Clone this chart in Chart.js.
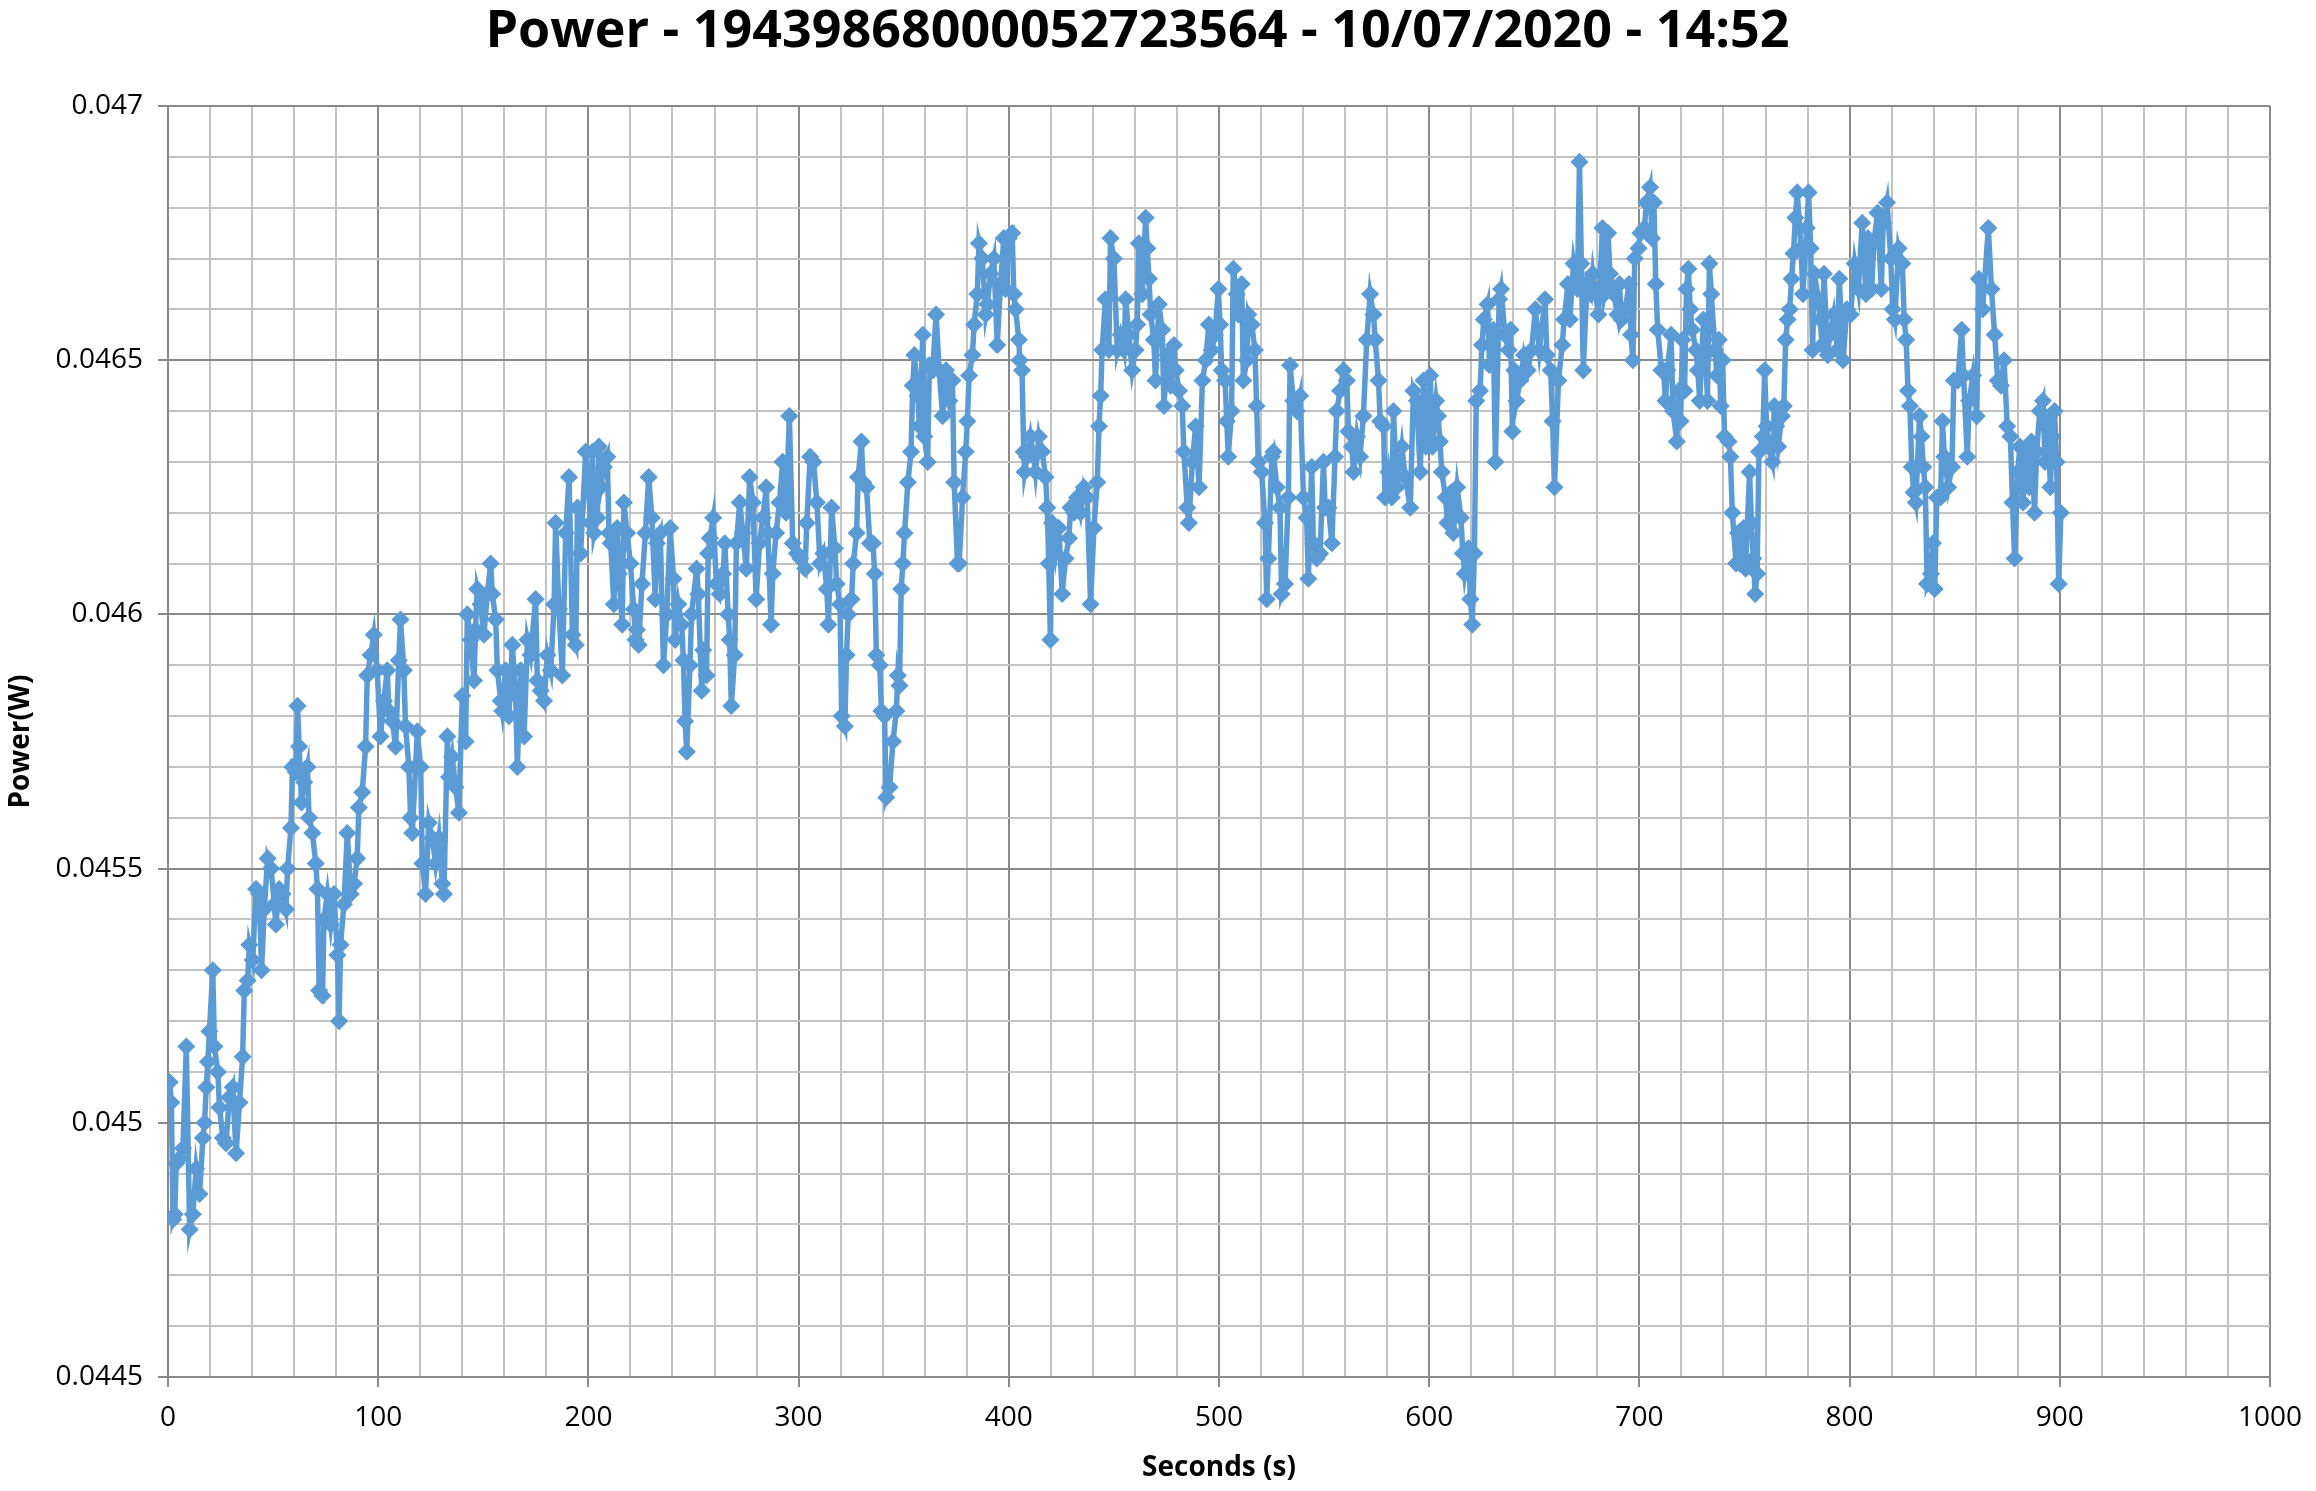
<!DOCTYPE html>
<html>
<head>
<meta charset="utf-8">
<title>Power</title>
<script src="https://cdn.jsdelivr.net/npm/chart.js@4.4.1/dist/chart.umd.min.js"></script>
<style>
  html, body { margin: 0; padding: 0; background: #fff; }
  #wrap { width: 2316px; height: 1491px; }
</style>
</head>
<body>
<div id="wrap"><canvas id="chart" width="2316" height="1491"></canvas></div>
<script>
const chartTitle = "Power - 19439868000052723564 - 10/07/2020 - 14:52";
const xTitle = "Seconds (s)";
const yTitle = "Power(W)";
const xTickLabels = ["0", "100", "200", "300", "400", "500", "600", "700", "800", "900", "1000"];
const yTickLabels = ["0.0445", "0.045", "0.0455", "0.046", "0.0465", "0.047"];

// sample times (s)
const seconds = [
  0.8,1.6,2.4,3.2,3.9,5.5,7.1,8.7,10.3,11.8,
  13.4,15.0,16.6,17.4,18.2,19.0,19.7,21.3,22.1,23.7,
  24.5,26.1,27.6,29.2,30.8,32.4,34.0,35.5,36.3,37.9,
  38.7,40.3,41.9,43.4,44.5,45.8,47.4,49.0,50.6,51.3,
  52.9,54.5,56.1,56.9,58.5,59.2,60.8,61.6,62.4,63.5,
  64.8,66.3,67.1,68.7,70.3,71.1,71.9,73.5,74.2,75.8,
  77.4,79.0,80.6,81.4,82.1,83.7,85.3,86.9,88.5,90.0,
  90.8,92.4,94.0,94.8,96.4,97.9,
  99.5,101.1,102.7,104.3,105.1,106.7,108.3,109.8,110.6,112.2,
  113.0,114.6,115.4,116.2,117.8,118.6,120.2,121.0,122.5,124.1,
  125.7,127.3,128.9,130.5,131.3,132.9,133.7,135.2,136.8,138.4,
  140.0,141.6,142.4,144.0,145.6,146.3,147.1,148.7,150.3,151.9,
  153.5,154.3,155.9,156.7,158.3,159.0,160.6,162.2,163.8,165.4,
  166.2,167.8,169.4,171.0,172.5,174.9,175.7,177.3,178.9,180.5,
  182.1,183.7,184.4,186.0,187.6,189.2,190.8,192.4,194.0,194.8,
  196.3,198.7,
  201.1,201.9,202.7,204.3,205.0,205.8,207.4,209.0,209.8,210.6,
  212.1,213.7,214.5,216.1,216.9,218.4,220.0,221.6,222.4,223.1,
  223.9,225.5,227.1,228.7,230.2,231.8,232.6,234.2,235.7,237.3,
  238.9,240.5,241.3,242.8,244.4,245.2,246.0,246.8,248.3,249.1,
  251.5,252.3,253.9,254.6,256.2,257.0,257.8,259.4,260.9,262.5,
  264.1,264.9,266.5,267.2,268.0,269.6,270.4,272.0,273.5,275.1,
  276.7,278.3,279.8,281.4,283.0,284.6,285.4,286.9,287.7,289.3,
  290.9,292.4,294.0,295.6,297.2,
  299.2,300.8,303.1,303.9,305.5,307.1,308.7,310.2,311.8,313.4,
  314.2,315.7,317.3,318.1,319.7,320.5,322.0,322.8,323.6,325.2,
  326.0,327.6,328.3,329.9,330.7,332.3,333.9,335.4,336.2,337.0,
  338.6,339.4,340.9,341.7,343.3,344.9,346.5,347.2,348.0,348.8,
  349.6,350.4,352.0,353.5,354.3,355.1,356.7,357.5,359.1,359.8,
  361.4,362.2,363.8,365.4,366.9,368.5,370.1,371.7,373.2,374.0,
  375.6,376.4,378.0,379.5,380.3,381.1,382.7,383.5,385.0,385.8,
  387.4,389.0,389.8,391.3,392.9,394.5,396.1,397.6,
  398.4,400.0,401.6,402.4,403.2,404.8,405.2,406.3,407.1,407.5,
  408.7,410.3,411.9,412.7,414.3,415.9,417.5,418.3,419.0,419.8,
  420.6,422.2,423.8,425.4,427.0,428.6,429.4,431.0,432.5,434.1,
  435.7,437.3,438.9,440.5,442.1,442.9,443.7,444.4,446.0,447.6,
  448.4,450.0,451.6,453.2,454.8,455.6,457.1,458.7,460.3,461.1,
  461.9,463.5,465.1,465.9,466.7,467.5,469.0,469.8,471.4,473.0,
  473.8,475.4,477.0,478.6,479.4,481.0,482.5,483.3,484.9,485.7,
  487.3,488.9,490.5,492.1,493.7,495.2,
  496.5,498.1,499.7,500.5,501.3,502.9,503.7,504.4,506.0,506.8,
  508.4,509.2,510.8,511.6,513.2,514.0,515.6,517.1,517.9,518.7,
  520.3,521.9,522.7,523.5,525.1,525.9,527.5,529.0,529.8,531.4,
  533.0,533.8,535.4,537.0,538.6,540.2,541.7,542.5,544.1,544.9,
  546.5,548.1,549.7,550.5,552.1,553.7,555.2,556.0,557.6,559.2,
  560.8,561.6,563.2,564.0,565.6,567.1,568.7,570.3,571.9,573.5,
  574.3,575.9,576.7,578.3,579.0,580.6,582.2,583.0,584.6,587.0,
  588.6,591.0,592.5,594.1,595.7,597.3,
  598.5,600.5,601.5,603.3,604.2,605.1,606.0,607.8,608.7,610.5,
  611.5,613.3,615.1,616.0,616.9,618.7,619.6,620.5,621.5,622.4,
  624.2,625.1,626.0,627.8,628.7,630.5,631.5,633.3,634.2,636.0,
  637.8,638.7,639.6,640.5,641.5,643.3,645.1,646.9,648.7,650.5,
  652.4,655.1,656.0,657.8,658.7,659.6,661.5,663.3,664.2,666.0,
  666.9,668.7,670.5,671.5,672.4,673.3,675.1,676.9,677.8,678.7,
  680.5,682.4,683.3,684.2,685.1,686.0,687.8,689.6,690.5,691.5,
  693.3,695.1,696.0,696.9,697.8,699.6,700.5,702.4,703.3,705.1,
  706.0,706.9,707.8,708.7,710.5,711.5,712.4,713.3,715.1,716.0,
  717.8,718.7,719.6,720.5,721.5,722.4,723.3,724.2,725.1,726.9,
  727.8,728.7,730.5,731.5,732.4,733.3,734.2,736.0,736.9,737.8,
  738.7,739.6,740.5,742.4,743.3,744.2,746.0,746.9,747.8,749.6,
  750.5,752.4,753.3,754.2,755.1,756.0,756.9,758.7,759.6,760.5,
  761.5,763.3,764.2,765.1,766.0,767.8,768.7,769.6,770.5,771.5,
  772.4,773.3,774.2,775.1,776.9,777.8,779.6,780.5,781.5,782.4,
  783.3,785.1,786.0,786.9,787.8,789.6,790.5,792.4,794.2,795.1,
  796.0,796.9,798.7,800.5,802.4,804.2,806.0,807.8,808.7,810.5,
  811.5,813.3,815.1,816.0,817.8,819.6,820.5,821.5,823.3,825.1,
  826.0,826.9,827.8,828.7,829.6,830.5,831.5,833.3,834.2,835.1,
  836.0,836.9,838.7,839.6,840.5,841.5,843.3,844.2,845.1,846.9,
  848.7,849.6,851.5,853.3,854.2,856.0,856.9,858.7,860.5,861.5,
  863.3,866.0,
  867.5,869.0,870.5,872.0,873.5,875.0,876.5,877.5,878.5,880.0,
  881.0,882.5,884.0,885.5,886.5,888.0,889.0,890.5,892.0,893.0,
  894.5,895.5,896.5,897.5,898.5,899.5,900.5
];

// power (W), same order as seconds
const power = [
  0.04508,0.04504,0.04481,0.04482,0.04492,0.04493,0.04495,0.04515,0.04479,0.04482,
  0.04491,0.04486,0.04497,0.04500,0.04507,0.04512,0.04518,0.04530,0.04515,0.04510,
  0.04503,0.04497,0.04496,0.04505,0.04507,0.04494,0.04504,0.04513,0.04526,0.04528,
  0.04535,0.04532,0.04546,0.04545,0.04530,0.04542,0.04552,0.04550,0.04543,0.04539,
  0.04546,0.04545,0.04542,0.04550,0.04558,0.04570,0.04569,0.04582,0.04574,0.04563,
  0.04567,0.04570,0.04560,0.04557,0.04551,0.04546,0.04526,0.04525,0.04540,0.04545,
  0.04539,0.04545,0.04533,0.04520,0.04535,0.04543,0.04557,0.04545,0.04547,0.04552,
  0.04562,0.04565,0.04574,0.04588,0.04592,0.04596,
  0.04589,0.04576,0.04583,0.04589,0.04581,0.04579,0.04574,0.04591,0.04599,0.04589,
  0.04578,0.04570,0.04560,0.04557,0.04570,0.04577,0.04570,0.04551,0.04545,0.04559,
  0.04556,0.04551,0.04556,0.04547,0.04545,0.04576,0.04568,0.04572,0.04566,0.04561,
  0.04584,0.04575,0.04600,0.04595,0.04587,0.04597,0.04605,0.04602,0.04596,0.04604,
  0.04610,0.04604,0.04599,0.04589,0.04583,0.04581,0.04589,0.04580,0.04594,0.04584,
  0.04570,0.04589,0.04576,0.04595,0.04592,0.04603,0.04587,0.04585,0.04583,0.04592,
  0.04589,0.04602,0.04618,0.04601,0.04588,0.04616,0.04627,0.04596,0.04594,0.04621,
  0.04612,0.04632,
  0.04618,0.04632,0.04616,0.04619,0.04633,0.04625,0.04629,0.04631,0.04616,0.04614,
  0.04602,0.04617,0.04608,0.04598,0.04622,0.04616,0.04610,0.04601,0.04595,0.04597,
  0.04594,0.04606,0.04616,0.04627,0.04619,0.04603,0.04614,0.04616,0.04590,0.04600,
  0.04617,0.04607,0.04595,0.04602,0.04598,0.04591,0.04579,0.04573,0.04590,0.04600,
  0.04609,0.04604,0.04585,0.04593,0.04588,0.04612,0.04615,0.04619,0.04606,0.04604,
  0.04608,0.04614,0.04600,0.04595,0.04582,0.04592,0.04614,0.04622,0.04616,0.04609,
  0.04627,0.04622,0.04603,0.04614,0.04619,0.04625,0.04616,0.04598,0.04608,0.04616,
  0.04622,0.04630,0.04620,0.04639,0.04614,
  0.04612,0.04611,0.04609,0.04618,0.04631,0.04630,0.04622,0.04610,0.04612,0.04605,
  0.04598,0.04621,0.04613,0.04606,0.04602,0.04580,0.04578,0.04592,0.04600,0.04603,
  0.04610,0.04616,0.04627,0.04634,0.04626,0.04625,0.04614,0.04614,0.04608,0.04592,
  0.04590,0.04581,0.04580,0.04564,0.04566,0.04575,0.04581,0.04588,0.04586,0.04605,
  0.04610,0.04616,0.04626,0.04632,0.04645,0.04651,0.04643,0.04637,0.04655,0.04635,
  0.04630,0.04649,0.04648,0.04659,0.04648,0.04639,0.04648,0.04642,0.04646,0.04626,
  0.04610,0.04610,0.04623,0.04632,0.04638,0.04647,0.04651,0.04657,0.04663,0.04673,
  0.04670,0.04659,0.04661,0.04667,0.04670,0.04653,0.04665,0.04674,
  0.04664,0.04674,0.04675,0.04663,0.04660,0.04654,0.04650,0.04648,0.04632,0.04628,
  0.04631,0.04635,0.04631,0.04628,0.04635,0.04632,0.04627,0.04621,0.04610,0.04595,
  0.04618,0.04612,0.04617,0.04604,0.04611,0.04615,0.04621,0.04620,0.04623,0.04620,
  0.04625,0.04623,0.04602,0.04617,0.04626,0.04637,0.04643,0.04652,0.04662,0.04652,
  0.04674,0.04670,0.04652,0.04655,0.04652,0.04662,0.04655,0.04648,0.04652,0.04657,
  0.04673,0.04663,0.04678,0.04672,0.04666,0.04659,0.04654,0.04646,0.04661,0.04656,
  0.04641,0.04651,0.04645,0.04653,0.04648,0.04644,0.04641,0.04632,0.04621,0.04618,
  0.04630,0.04637,0.04625,0.04646,0.04650,0.04657,
  0.04652,0.04655,0.04664,0.04657,0.04648,0.04646,0.04638,0.04631,0.04640,0.04668,
  0.04663,0.04659,0.04665,0.04646,0.04650,0.04659,0.04657,0.04652,0.04641,0.04630,
  0.04628,0.04618,0.04603,0.04611,0.04631,0.04632,0.04625,0.04621,0.04604,0.04606,
  0.04623,0.04649,0.04642,0.04640,0.04643,0.04623,0.04619,0.04607,0.04629,0.04614,
  0.04611,0.04612,0.04630,0.04621,0.04621,0.04614,0.04631,0.04640,0.04644,0.04648,
  0.04646,0.04636,0.04633,0.04628,0.04635,0.04631,0.04639,0.04654,0.04663,0.04659,
  0.04654,0.04646,0.04638,0.04637,0.04623,0.04628,0.04623,0.04640,0.04625,0.04633,
  0.04627,0.04621,0.04644,0.04642,0.04628,0.04646,
  0.04633,0.04647,0.04633,0.04642,0.04639,0.04634,0.04628,0.04623,0.04618,0.04624,
  0.04616,0.04625,0.04619,0.04612,0.04608,0.04613,0.04603,0.04598,0.04612,0.04642,
  0.04644,0.04653,0.04658,0.04661,0.04649,0.04656,0.04630,0.04662,0.04664,0.04655,
  0.04652,0.04656,0.04636,0.04648,0.04642,0.04646,0.04651,0.04648,0.04652,0.04660,
  0.04652,0.04662,0.04651,0.04648,0.04638,0.04625,0.04646,0.04653,0.04658,0.04665,
  0.04658,0.04669,0.04664,0.04689,0.04669,0.04648,0.04665,0.04663,0.04667,0.04664,
  0.04659,0.04676,0.04663,0.04665,0.04675,0.04667,0.04663,0.04659,0.04665,0.04658,
  0.04660,0.04665,0.04655,0.04650,0.04670,0.04672,0.04675,0.04676,0.04681,0.04684,
  0.04674,0.04681,0.04665,0.04656,0.04648,0.04648,0.04642,0.04648,0.04655,0.04640,
  0.04634,0.04644,0.04638,0.04654,0.04644,0.04664,0.04668,0.04660,0.04656,0.04652,
  0.04648,0.04642,0.04658,0.04651,0.04642,0.04669,0.04663,0.04652,0.04647,0.04654,
  0.04641,0.04650,0.04635,0.04634,0.04631,0.04620,0.04610,0.04616,0.04610,0.04617,
  0.04609,0.04628,0.04618,0.04611,0.04604,0.04608,0.04632,0.04635,0.04648,0.04637,
  0.04633,0.04630,0.04641,0.04637,0.04633,0.04639,0.04641,0.04654,0.04658,0.04660,
  0.04666,0.04671,0.04678,0.04683,0.04672,0.04663,0.04676,0.04683,0.04672,0.04652,
  0.04667,0.04662,0.04658,0.04653,0.04667,0.04651,0.04655,0.04659,0.04652,0.04666,
  0.04658,0.04650,0.04660,0.04659,0.04669,0.04664,0.04677,0.04663,0.04674,0.04664,
  0.04673,0.04679,0.04664,0.04677,0.04681,0.04670,0.04660,0.04658,0.04672,0.04669,
  0.04658,0.04654,0.04644,0.04641,0.04629,0.04624,0.04622,0.04639,0.04635,0.04629,
  0.04625,0.04606,0.04608,0.04614,0.04605,0.04623,0.04623,0.04638,0.04631,0.04625,
  0.04629,0.04646,0.04646,0.04656,0.04647,0.04631,0.04642,0.04647,0.04639,0.04666,
  0.04660,0.04676,
  0.04664,0.04655,0.04646,0.04645,0.04650,0.04637,0.04635,0.04622,0.04611,0.04628,
  0.04633,0.04622,0.04632,0.04625,0.04634,0.04620,0.04632,0.04640,0.04642,0.04630,
  0.04638,0.04625,0.04635,0.04640,0.04630,0.04606,0.04620
];

const lineColor = "#5B9BD5";
const majorGrid = "#8a8a8a";
const minorGrid = "#c3c3c3";

// narrow sans if the box has it, otherwise Open Sans with smaller sizes
function hasFont(name) {
  const c = document.createElement("canvas").getContext("2d");
  const probe = "0123456789 Power Seconds";
  c.font = "40px monospace";
  const a = c.measureText(probe).width;
  c.font = '40px "' + name + '", monospace';
  return c.measureText(probe).width !== a;
}
const narrow = hasFont("Liberation Sans Narrow");
const family = narrow ? '"Liberation Sans Narrow", "Open Sans", sans-serif' : '"Open Sans", sans-serif';
const size = narrow ? { title: 62, tick: 34, axis: 33 } : { title: 52, tick: 28, axis: 28 };

Chart.defaults.font.family = family;
Chart.defaults.color = "#000";

const xMin = Number(xTickLabels[0]);
const xMax = Number(xTickLabels[xTickLabels.length - 1]);
const yMin = Number(yTickLabels[0]);
const yMax = Number(yTickLabels[yTickLabels.length - 1]);

const isMajorX = (v) => Math.round(v) % 100 === 0;
const isMajorY = (v) => Math.round(v * 100000) % 50 === 0;

const points = [];
const n = Math.min(seconds.length, power.length);
if (seconds.length !== power.length) console.log("length mismatch", seconds.length, power.length);
for (let i = 0; i < n; i++) points.push({ x: seconds[i], y: power[i] });

const ctx = document.getElementById("chart").getContext("2d");
new Chart(ctx, {
  type: "line",
  data: {
    datasets: [
      {
        label: "Power",
        data: points,
        borderColor: lineColor,
        backgroundColor: lineColor,
        borderWidth: 5.5,
        tension: 0,
        pointStyle: "rectRot",
        pointRadius: 8,
        pointBorderWidth: 1.5,
        pointBackgroundColor: lineColor,
        pointBorderColor: lineColor,
      },
    ],
  },
  options: {
    responsive: false,
    devicePixelRatio: 1,
    animation: false,
    layout: { padding: { left: 0, right: 41, top: 0, bottom: 0 } },
    plugins: {
      legend: { display: false },
      tooltip: { enabled: false },
      title: {
        display: true,
        text: chartTitle,
        color: "#000",
        font: { size: size.title, weight: "bold", lineHeight: 1 },
        padding: { top: narrow ? 0 : 6, bottom: narrow ? 44 : 48 },
      },
    },
    scales: {
      x: {
        type: "linear",
        min: xMin,
        max: xMax,
        afterBuildTicks: (scale) => {
          const t = [];
          for (let s = xMin; s <= xMax; s += 20) t.push({ value: s });
          scale.ticks = t;
        },
        afterFit: (scale) => { scale.height = 114; },
        ticks: {
          autoSkip: false,
          maxRotation: 0,
          minRotation: 0,
          padding: 14,
          color: "#000",
          font: { size: size.tick },
          callback: (v) => (xTickLabels.includes(String(v)) ? String(v) : ""),
        },
        grid: {
          color: (c) => (isMajorX(c.tick.value) ? majorGrid : minorGrid),
          tickColor: (c) => (isMajorX(c.tick.value) ? majorGrid : "rgba(0,0,0,0)"),
          lineWidth: 2,
          tickLength: 10,
        },
        border: { color: majorGrid, width: 2 },
        title: {
          display: true,
          text: xTitle,
          color: "#000",
          font: { size: size.axis, weight: "bold" },
          padding: { top: 0, bottom: 6 },
        },
      },
      y: {
        type: "linear",
        min: yMin,
        max: yMax,
        afterBuildTicks: (scale) => {
          const t = [];
          for (let k = Math.round(yMin * 100000); k <= Math.round(yMax * 100000); k += 10) t.push({ value: k / 100000 });
          scale.ticks = t;
        },
        afterFit: (scale) => { scale.width = 168; },
        ticks: {
          autoSkip: false,
          padding: 15,
          color: "#000",
          font: { size: size.tick },
          callback: (v) => {
            const lbl = yTickLabels.find((l) => Math.abs(Number(l) - v) < 1e-9);
            return lbl || "";
          },
        },
        grid: {
          color: (c) => (isMajorY(c.tick.value) ? majorGrid : minorGrid),
          tickColor: (c) => (isMajorY(c.tick.value) ? majorGrid : "rgba(0,0,0,0)"),
          lineWidth: 2,
          tickLength: 10,
        },
        border: { color: majorGrid, width: 2 },
        title: {
          display: true,
          text: yTitle,
          color: "#000",
          font: { size: size.axis, weight: "bold" },
          padding: { top: 4, bottom: 0 },
        },
      },
    },
  },
});
</script>
</body>
</html>
